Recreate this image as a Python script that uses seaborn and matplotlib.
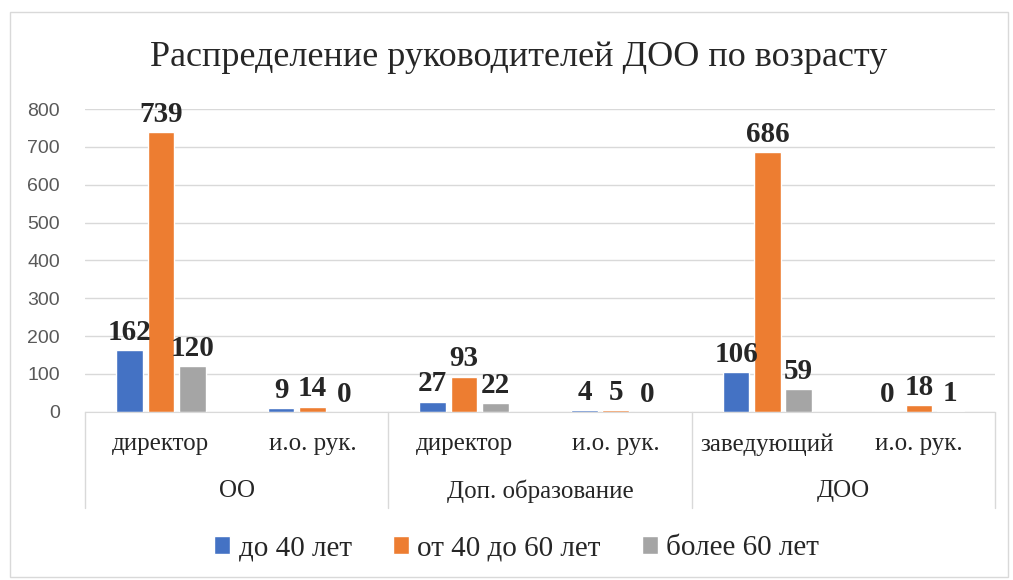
import pandas as pd
import seaborn as sns
import matplotlib.pyplot as plt
from matplotlib.patches import Rectangle

groups = ["ОО", "Доп. образование", "ДОО"]
positions = ["директор", "и.о. рук.", "директор", "и.о. рук.", "заведующий", "и.о. рук."]
series = ["до 40 лет", "от 40 до 60 лет", "более 60 лет"]
under40 = [162, 9, 27, 4, 106, 0]
from40to60 = [739, 14, 93, 5, 686, 18]
over60 = [120, 0, 22, 0, 59, 1]
colors = ["#4472C4", "#ED7D31", "#A5A5A5"]

rows = []
for name, vals in zip(series, [under40, from40to60, over60]):
    for i, v in enumerate(vals):
        rows.append({"slot": str(i), "age": name, "count": v})
df = pd.DataFrame(rows)

sns.set_style("white")
serif = "Liberation Serif"
sans = "Liberation Sans"

fig = plt.figure(figsize=(10.13, 5.8), dpi=100)
ax = fig.add_axes([0.084, 0.29, 0.898, 0.522])

sns.barplot(data=df, x="slot", y="count", hue="age", palette=colors,
            width=0.62, gap=0.15, ax=ax, legend=True, saturation=1)

ax.set_ylim(0, 800)
ax.set_yticks(range(0, 801, 100))
ax.yaxis.grid(True, color="#D9D9D9", linewidth=1)
ax.set_axisbelow(True)
for s in ["top", "right", "left"]:
    ax.spines[s].set_visible(False)
ax.spines["bottom"].set_color("#D9D9D9")
ax.tick_params(axis="y", labelsize=14, labelcolor="#595959", length=0, pad=18)
for t in ax.get_yticklabels():
    t.set_family(sans)
ax.set_xticks([])
ax.set_xlabel("")
ax.set_ylabel("")
ax.set_xlim(-0.5, 5.5)

for c in ax.containers:
    ax.bar_label(c, fontsize=21, fontweight="bold", family=serif, padding=3)

# two-level category axis
tr = ax.get_xaxis_transform()
for i, p in enumerate(positions):
    ax.text(i, -0.108, p, transform=tr, ha="center", va="center",
            fontsize=18, family=serif)
for g, name in enumerate(groups):
    ax.text(2 * g + 0.5, -0.262, name, transform=tr, ha="center", va="center",
            fontsize=18, family=serif)
for xb in [-0.5, 1.5, 3.5, 5.5]:
    ax.plot([xb, xb], [0, -0.317], transform=tr, color="#D9D9D9",
            linewidth=1, clip_on=False)

handles, labels = ax.get_legend_handles_labels()
ax.legend_.remove()
fig.legend(handles, labels, loc="center", bbox_to_anchor=(0.51, 0.055), ncol=3,
           frameon=False, prop={"family": serif, "size": 21},
           handlelength=0.55, handleheight=0.55, handletextpad=0.3, columnspacing=1.4)

fig.text(0.512, 0.9, "Распределение руководителей ДОО по возрасту",
         ha="center", va="center", fontsize=26, family=serif)

fig.patches.append(Rectangle((0.01, 0.005), 0.985, 0.975, transform=fig.transFigure,
                             fill=False, edgecolor="#D9D9D9", linewidth=1))

fig.savefig("out.png", dpi=100)
